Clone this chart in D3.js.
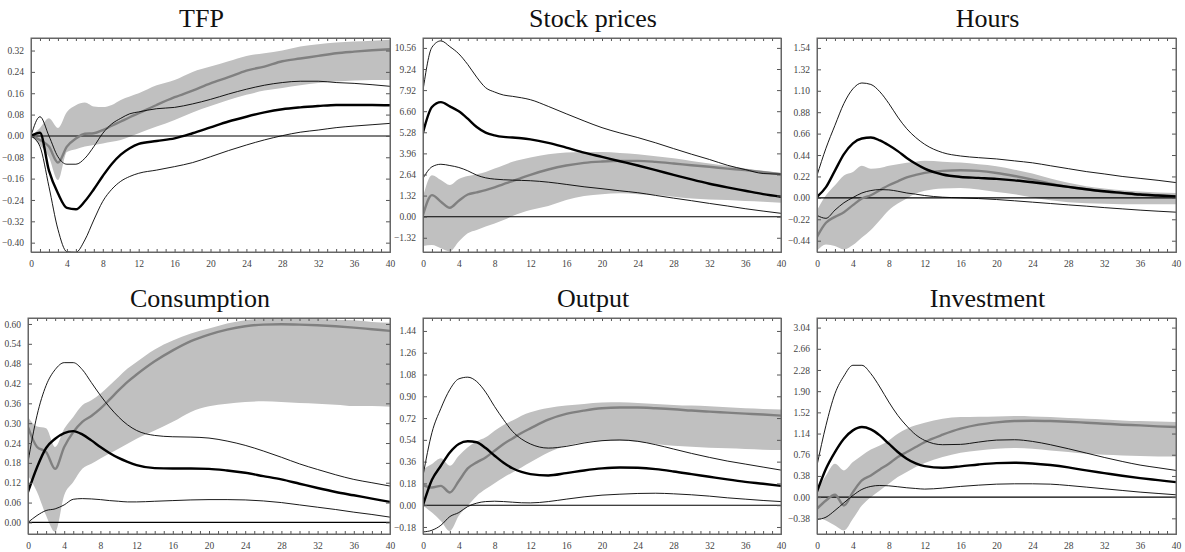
<!DOCTYPE html>
<html>
<head>
<meta charset="utf-8">
<script src="https://cdn.jsdelivr.net/npm/d3@7"></script>
<style>
  body { margin: 0; background: #fff; }
  svg { display: block; }
  .title { font-family: "Liberation Serif", serif; font-size: 26px; fill: #111; }
  .tick text { font-family: "Liberation Serif", serif; font-size: 9.5px; fill: #444; }
</style>
</head>
<body>
<svg id="chart" width="1185" height="552"></svg>
<script>
// horizons (quarters) at which values were read
const horizons = [0,1,2,3,4,5,6,7,8,9,10,11,12,14,16,18,20,22,24,26,28,30,32,34,36,38,40];
const xTicks = [0,4,8,12,16,20,24,28,32,36,40];

const titles = ['TFP', 'Stock prices', 'Hours', 'Consumption', 'Output', 'Investment'];

// TFP
const tfpYTicks = [-0.40,-0.32,-0.24,-0.16,-0.08,0,0.08,0.16,0.24,0.32];
const tfpBandHi = [0,0.03,0.066,0.03,0.09,0.115,0.125,0.11,0.108,0.116,0.135,0.148,0.16,0.19,0.21,0.24,0.26,0.28,0.30,0.31,0.32,0.335,0.344,0.35,0.354,0.357,0.36];
const tfpBandLo = [0,-0.035,-0.08,-0.165,-0.06,-0.05,-0.04,-0.034,-0.028,-0.022,-0.015,-0.003,0.01,0.035,0.06,0.088,0.112,0.135,0.154,0.17,0.18,0.19,0.198,0.204,0.208,0.21,0.21];
const tfpGray = [0,-0.015,-0.04,-0.10,-0.04,-0.01,0.008,0.01,0.022,0.038,0.054,0.07,0.085,0.116,0.145,0.17,0.197,0.22,0.245,0.26,0.28,0.29,0.30,0.31,0.316,0.321,0.325];
const tfpMedian = [0,0.012,-0.13,-0.215,-0.27,-0.275,-0.245,-0.2,-0.15,-0.105,-0.07,-0.046,-0.03,-0.019,-0.009,0.01,0.032,0.054,0.072,0.088,0.1,0.107,0.112,0.116,0.116,0.116,0.115];
const tfpUpper = [0,0.072,0,-0.078,-0.106,-0.106,-0.084,-0.04,0.01,0.045,0.066,0.083,0.09,0.102,0.107,0.12,0.137,0.157,0.175,0.19,0.2,0.205,0.205,0.2,0.197,0.192,0.186];
const tfpLower = [0,-0.04,-0.19,-0.35,-0.434,-0.436,-0.39,-0.315,-0.245,-0.2,-0.17,-0.152,-0.14,-0.128,-0.115,-0.1,-0.078,-0.055,-0.034,-0.015,0.001,0.014,0.022,0.031,0.037,0.042,0.047];

// Stock prices
const stockYTicks = [-1.32,0,1.32,2.64,3.96,5.28,6.60,7.92,9.24,10.56];
const stockBandHi = [1.25,2.6,2.29,1.98,2.35,2.54,2.66,2.8,3.01,3.22,3.43,3.58,3.7,3.91,4.01,4.05,4.05,3.99,3.91,3.78,3.66,3.49,3.33,3.18,3.01,2.87,2.74];
const stockBandLo = [-1.83,-1.77,-1.98,-2.18,-1.56,-1.04,-0.83,-0.62,-0.42,-0.21,0.04,0.25,0.42,0.67,1.04,1.29,1.41,1.46,1.41,1.35,1.25,1.14,1.08,1.04,0.98,0.94,0.87];
const stockGray = [0.1,1.35,0.94,0.56,1.0,1.39,1.52,1.66,1.83,2.04,2.22,2.43,2.62,2.95,3.2,3.37,3.45,3.49,3.49,3.43,3.33,3.22,3.12,3.01,2.91,2.79,2.66];
const stockMedian = [5.26,6.86,7.17,6.9,6.59,6.13,5.61,5.26,5.09,4.99,4.95,4.91,4.84,4.62,4.32,4.01,3.74,3.47,3.2,2.91,2.62,2.33,2.06,1.83,1.62,1.41,1.25];
const stockUpper = [7.9,10.6,11.0,10.64,10.19,9.52,8.73,8.07,7.8,7.61,7.53,7.44,7.32,6.9,6.44,5.99,5.57,5.24,4.95,4.62,4.26,3.91,3.58,3.22,2.95,2.7,2.66];
const stockLower = [2.39,3.12,3.28,3.2,3.08,2.87,2.6,2.43,2.35,2.31,2.29,2.27,2.25,2.16,2.02,1.87,1.75,1.62,1.5,1.33,1.16,1.0,0.83,0.67,0.5,0.35,0.21];

// Hours
const hoursYTicks = [-0.44,-0.22,0,0.22,0.44,0.66,0.88,1.10,1.32,1.54];
const hoursBandHi = [-0.126,0.027,0.13,0.23,0.266,0.33,0.3,0.307,0.33,0.345,0.36,0.372,0.38,0.372,0.362,0.345,0.325,0.29,0.25,0.198,0.154,0.12,0.096,0.079,0.065,0.055,0.051];
const hoursBandLo = [-0.543,-0.478,-0.495,-0.53,-0.485,-0.407,-0.33,-0.23,-0.126,-0.058,-0.007,0.044,0.072,0.096,0.102,0.085,0.061,0.038,0.003,-0.024,-0.044,-0.055,-0.061,-0.065,-0.065,-0.065,-0.065];
const hoursGray = [-0.4,-0.256,-0.195,-0.147,-0.075,-0.007,0.027,0.079,0.13,0.17,0.21,0.236,0.256,0.277,0.284,0.277,0.256,0.225,0.188,0.147,0.113,0.089,0.065,0.048,0.034,0.024,0.017];
const hoursMedian = [0.01,0.11,0.28,0.45,0.56,0.61,0.62,0.59,0.54,0.48,0.41,0.35,0.3,0.24,0.215,0.205,0.195,0.18,0.16,0.137,0.113,0.089,0.068,0.051,0.034,0.024,0.014];
const hoursUpper = [0.23,0.51,0.745,0.97,1.12,1.18,1.165,1.09,0.97,0.83,0.71,0.62,0.55,0.465,0.43,0.413,0.4,0.38,0.36,0.33,0.3,0.27,0.246,0.22,0.2,0.18,0.157];
const hoursLower = [-0.18,-0.21,-0.126,-0.05,0.003,0.05,0.075,0.085,0.082,0.068,0.05,0.038,0.024,0.007,0,-0.007,-0.017,-0.03,-0.044,-0.058,-0.072,-0.085,-0.1,-0.113,-0.126,-0.137,-0.147];

// Consumption
const consYTicks = [0,0.06,0.12,0.18,0.24,0.30,0.36,0.42,0.48,0.54,0.60];
const consBandHi = [0.319,0.29,0.285,0.228,0.283,0.319,0.354,0.369,0.389,0.414,0.44,0.465,0.485,0.523,0.55,0.571,0.586,0.601,0.611,0.616,0.616,0.616,0.615,0.613,0.611,0.606,0.604];
const consBandLo = [0.142,0.092,0.021,-0.029,0.082,0.122,0.162,0.177,0.193,0.208,0.223,0.238,0.253,0.278,0.304,0.334,0.351,0.359,0.364,0.366,0.364,0.361,0.359,0.356,0.352,0.352,0.35];
const consGray = [0.288,0.228,0.213,0.162,0.228,0.273,0.304,0.322,0.344,0.371,0.399,0.425,0.447,0.487,0.52,0.548,0.568,0.583,0.593,0.598,0.599,0.598,0.596,0.593,0.589,0.584,0.579];
const consMedian = [0.092,0.167,0.225,0.253,0.27,0.276,0.266,0.248,0.228,0.21,0.195,0.183,0.173,0.164,0.163,0.163,0.162,0.157,0.15,0.14,0.13,0.117,0.104,0.092,0.082,0.072,0.062];
const consUpper = [0.183,0.324,0.414,0.462,0.483,0.483,0.462,0.423,0.384,0.349,0.319,0.295,0.278,0.263,0.259,0.258,0.255,0.246,0.233,0.216,0.197,0.177,0.16,0.144,0.13,0.12,0.11];
const consLower = [0,0.021,0.036,0.041,0.053,0.07,0.072,0.071,0.069,0.066,0.064,0.062,0.062,0.064,0.066,0.068,0.069,0.069,0.068,0.065,0.06,0.053,0.046,0.039,0.031,0.024,0.016];

// Output
const outYTicks = [-0.18,0,0.18,0.36,0.54,0.72,0.90,1.08,1.26,1.44];
const outBandHi = [0.298,0.34,0.387,0.326,0.409,0.478,0.528,0.561,0.616,0.663,0.699,0.74,0.768,0.804,0.823,0.837,0.848,0.851,0.845,0.837,0.829,0.823,0.818,0.81,0.801,0.796,0.79];
const outBandLo = [-0.005,-0.061,-0.13,-0.213,-0.088,-0.005,0.077,0.133,0.182,0.229,0.271,0.312,0.354,0.436,0.492,0.519,0.533,0.533,0.525,0.506,0.492,0.483,0.475,0.47,0.464,0.459,0.456];
const outGray = [0.166,0.146,0.16,0.105,0.2,0.304,0.354,0.395,0.45,0.506,0.552,0.597,0.635,0.707,0.754,0.782,0.801,0.807,0.807,0.801,0.793,0.782,0.773,0.765,0.757,0.749,0.74];
const outMedian = [0,0.21,0.326,0.436,0.506,0.528,0.52,0.472,0.409,0.35,0.305,0.275,0.257,0.246,0.265,0.287,0.304,0.312,0.309,0.298,0.279,0.257,0.235,0.213,0.193,0.177,0.16];
const outUpper = [0.243,0.6,0.8,0.956,1.044,1.058,1.022,0.934,0.815,0.707,0.61,0.547,0.506,0.472,0.486,0.514,0.533,0.539,0.528,0.5,0.464,0.428,0.395,0.365,0.34,0.315,0.29];
const outLower = [-0.221,-0.207,-0.166,-0.094,-0.061,-0.011,0.017,0.03,0.033,0.03,0.025,0.02,0.019,0.03,0.05,0.069,0.083,0.091,0.097,0.099,0.094,0.086,0.075,0.061,0.05,0.039,0.03];

// Investment
const invYTicks = [-0.38,0,0.38,0.76,1.14,1.52,1.90,2.28,2.66,3.04];
const invBandHi = [0.12,0.389,0.598,0.479,0.628,0.748,0.856,0.928,1.017,1.137,1.227,1.287,1.335,1.406,1.436,1.442,1.448,1.454,1.448,1.436,1.418,1.406,1.394,1.376,1.364,1.358,1.346];
const invBandLo = [-0.359,-0.419,-0.509,-0.598,-0.389,-0.15,0,0.12,0.239,0.359,0.449,0.539,0.61,0.718,0.796,0.838,0.868,0.88,0.868,0.838,0.808,0.778,0.76,0.748,0.736,0.73,0.73];
const invGray = [-0.209,-0.06,0.042,-0.15,0.09,0.299,0.389,0.497,0.598,0.718,0.808,0.898,0.987,1.119,1.227,1.299,1.341,1.364,1.37,1.364,1.352,1.335,1.317,1.299,1.287,1.269,1.257];
const invMedian = [0.1,0.509,0.808,1.047,1.197,1.257,1.215,1.107,0.958,0.81,0.69,0.605,0.555,0.527,0.551,0.586,0.61,0.616,0.604,0.575,0.533,0.479,0.431,0.383,0.341,0.305,0.269];
const invUpper = [0.568,1.287,1.855,2.172,2.364,2.364,2.214,1.975,1.706,1.466,1.275,1.119,1.017,0.94,0.946,0.987,1.023,1.029,0.999,0.94,0.868,0.79,0.712,0.64,0.575,0.527,0.479];
const invLower = [-0.401,-0.359,-0.239,-0.102,0.03,0.138,0.192,0.209,0.203,0.186,0.168,0.155,0.144,0.162,0.192,0.215,0.233,0.239,0.239,0.233,0.209,0.18,0.15,0.12,0.09,0.066,0.042];

// ---------- panels

const panels = [
  {title: titles[0], yTicks: tfpYTicks, y: [-0.435, 0.367],
   bandHi: tfpBandHi, bandLo: tfpBandLo, gray: tfpGray, median: tfpMedian, upper: tfpUpper, lower: tfpLower},
  {title: titles[1], yTicks: stockYTicks, y: [-2.21, 11.18],
   bandHi: stockBandHi, bandLo: stockBandLo, gray: stockGray, median: stockMedian, upper: stockUpper, lower: stockLower},
  {title: titles[2], yTicks: hoursYTicks, y: [-0.556, 1.642],
   bandHi: hoursBandHi, bandLo: hoursBandLo, gray: hoursGray, median: hoursMedian, upper: hoursUpper, lower: hoursLower},
  {title: titles[3], yTicks: consYTicks, y: [-0.035, 0.618],
   bandHi: consBandHi, bandLo: consBandLo, gray: consGray, median: consMedian, upper: consUpper, lower: consLower},
  {title: titles[4], yTicks: outYTicks, y: [-0.238, 1.547],
   bandHi: outBandHi, bandLo: outBandLo, gray: outGray, median: outMedian, upper: outUpper, lower: outLower},
  {title: titles[5], yTicks: invYTicks, y: [-0.661, 3.212],
   bandHi: invBandHi, bandLo: invBandLo, gray: invGray, median: invMedian, upper: invUpper, lower: invLower}
];

// plot-area boxes: left, top, right, bottom
const boxes = [
  [31, 38, 390, 252], [423, 38, 781, 252], [817, 38, 1176, 252],
  [28, 318, 390, 534], [423, 318, 781, 534], [817, 318, 1176, 534]
];

const svg = d3.select('#chart');

panels.forEach((p, i) => {
  const [l, t, r, b] = boxes[i];
  const w = r - l, h = b - t;

  const xScale = d3.scaleLinear().domain([0, 40]).range([0, w]);
  const yScale = d3.scaleLinear().domain(p.y).range([h, 0]);

  const g = svg.append('g').attr('transform', `translate(${l},${t})`);

  g.append('clipPath').attr('id', 'clip' + i)
    .append('rect').attr('width', w).attr('height', h);

  const plot = g.append('g').attr('clip-path', `url(#clip${i})`);

  // shaded band
  const area = d3.area()
    .x((d, k) => xScale(horizons[k]))
    .y0((d, k) => yScale(p.bandLo[k]))
    .y1(d => yScale(d))
    .curve(d3.curveMonotoneX);

  plot.append('path')
    .datum(p.bandHi)
    .attr('d', area)
    .attr('fill', '#c0c0c0');

  // zero line
  plot.append('line')
    .attr('x1', 0).attr('x2', w)
    .attr('y1', yScale(0)).attr('y2', yScale(0))
    .attr('stroke', '#000').attr('stroke-width', 1.1);

  const line = d3.line()
    .x((d, k) => xScale(horizons[k]))
    .y(d => yScale(d))
    .curve(d3.curveMonotoneX);

  plot.append('path').datum(p.gray).attr('d', line)
    .attr('fill', 'none').attr('stroke', '#808080').attr('stroke-width', 2.4);

  [p.upper, p.lower].forEach(s => {
    plot.append('path').datum(s).attr('d', line)
      .attr('fill', 'none').attr('stroke', '#000').attr('stroke-width', 0.9);
  });

  plot.append('path').datum(p.median).attr('d', line)
    .attr('fill', 'none').attr('stroke', '#000').attr('stroke-width', 2.4);

  // axes
  const minor = d3.range(0, 41);

  g.append('g')
    .attr('transform', `translate(0,${h})`)
    .call(d3.axisBottom(xScale).tickValues(minor).tickSize(-3).tickPadding(8)
      .tickFormat(d => xTicks.includes(d) ? d : ''));

  g.append('g')
    .call(d3.axisTop(xScale).tickValues(minor).tickSize(-3).tickFormat(''));

  g.append('g')
    .call(d3.axisLeft(yScale).tickValues(p.yTicks).tickSize(-4).tickPadding(7)
      .tickFormat(d3.format('.2f')));

  g.append('g')
    .attr('transform', `translate(${w},0)`)
    .call(d3.axisRight(yScale).tickValues(p.yTicks).tickSize(-4).tickFormat(''));

  g.selectAll('.domain').attr('stroke', '#666');
  g.selectAll('.tick line').attr('stroke', '#555');

  // frame
  g.append('rect')
    .attr('width', w).attr('height', h)
    .attr('fill', 'none').attr('stroke', '#666').attr('stroke-width', 1);

  // title
  svg.append('text')
    .attr('class', 'title')
    .attr('x', l + w / 2 - 9)
    .attr('y', t - 11)
    .attr('text-anchor', 'middle')
    .text(p.title);
});
</script>
</body>
</html>
